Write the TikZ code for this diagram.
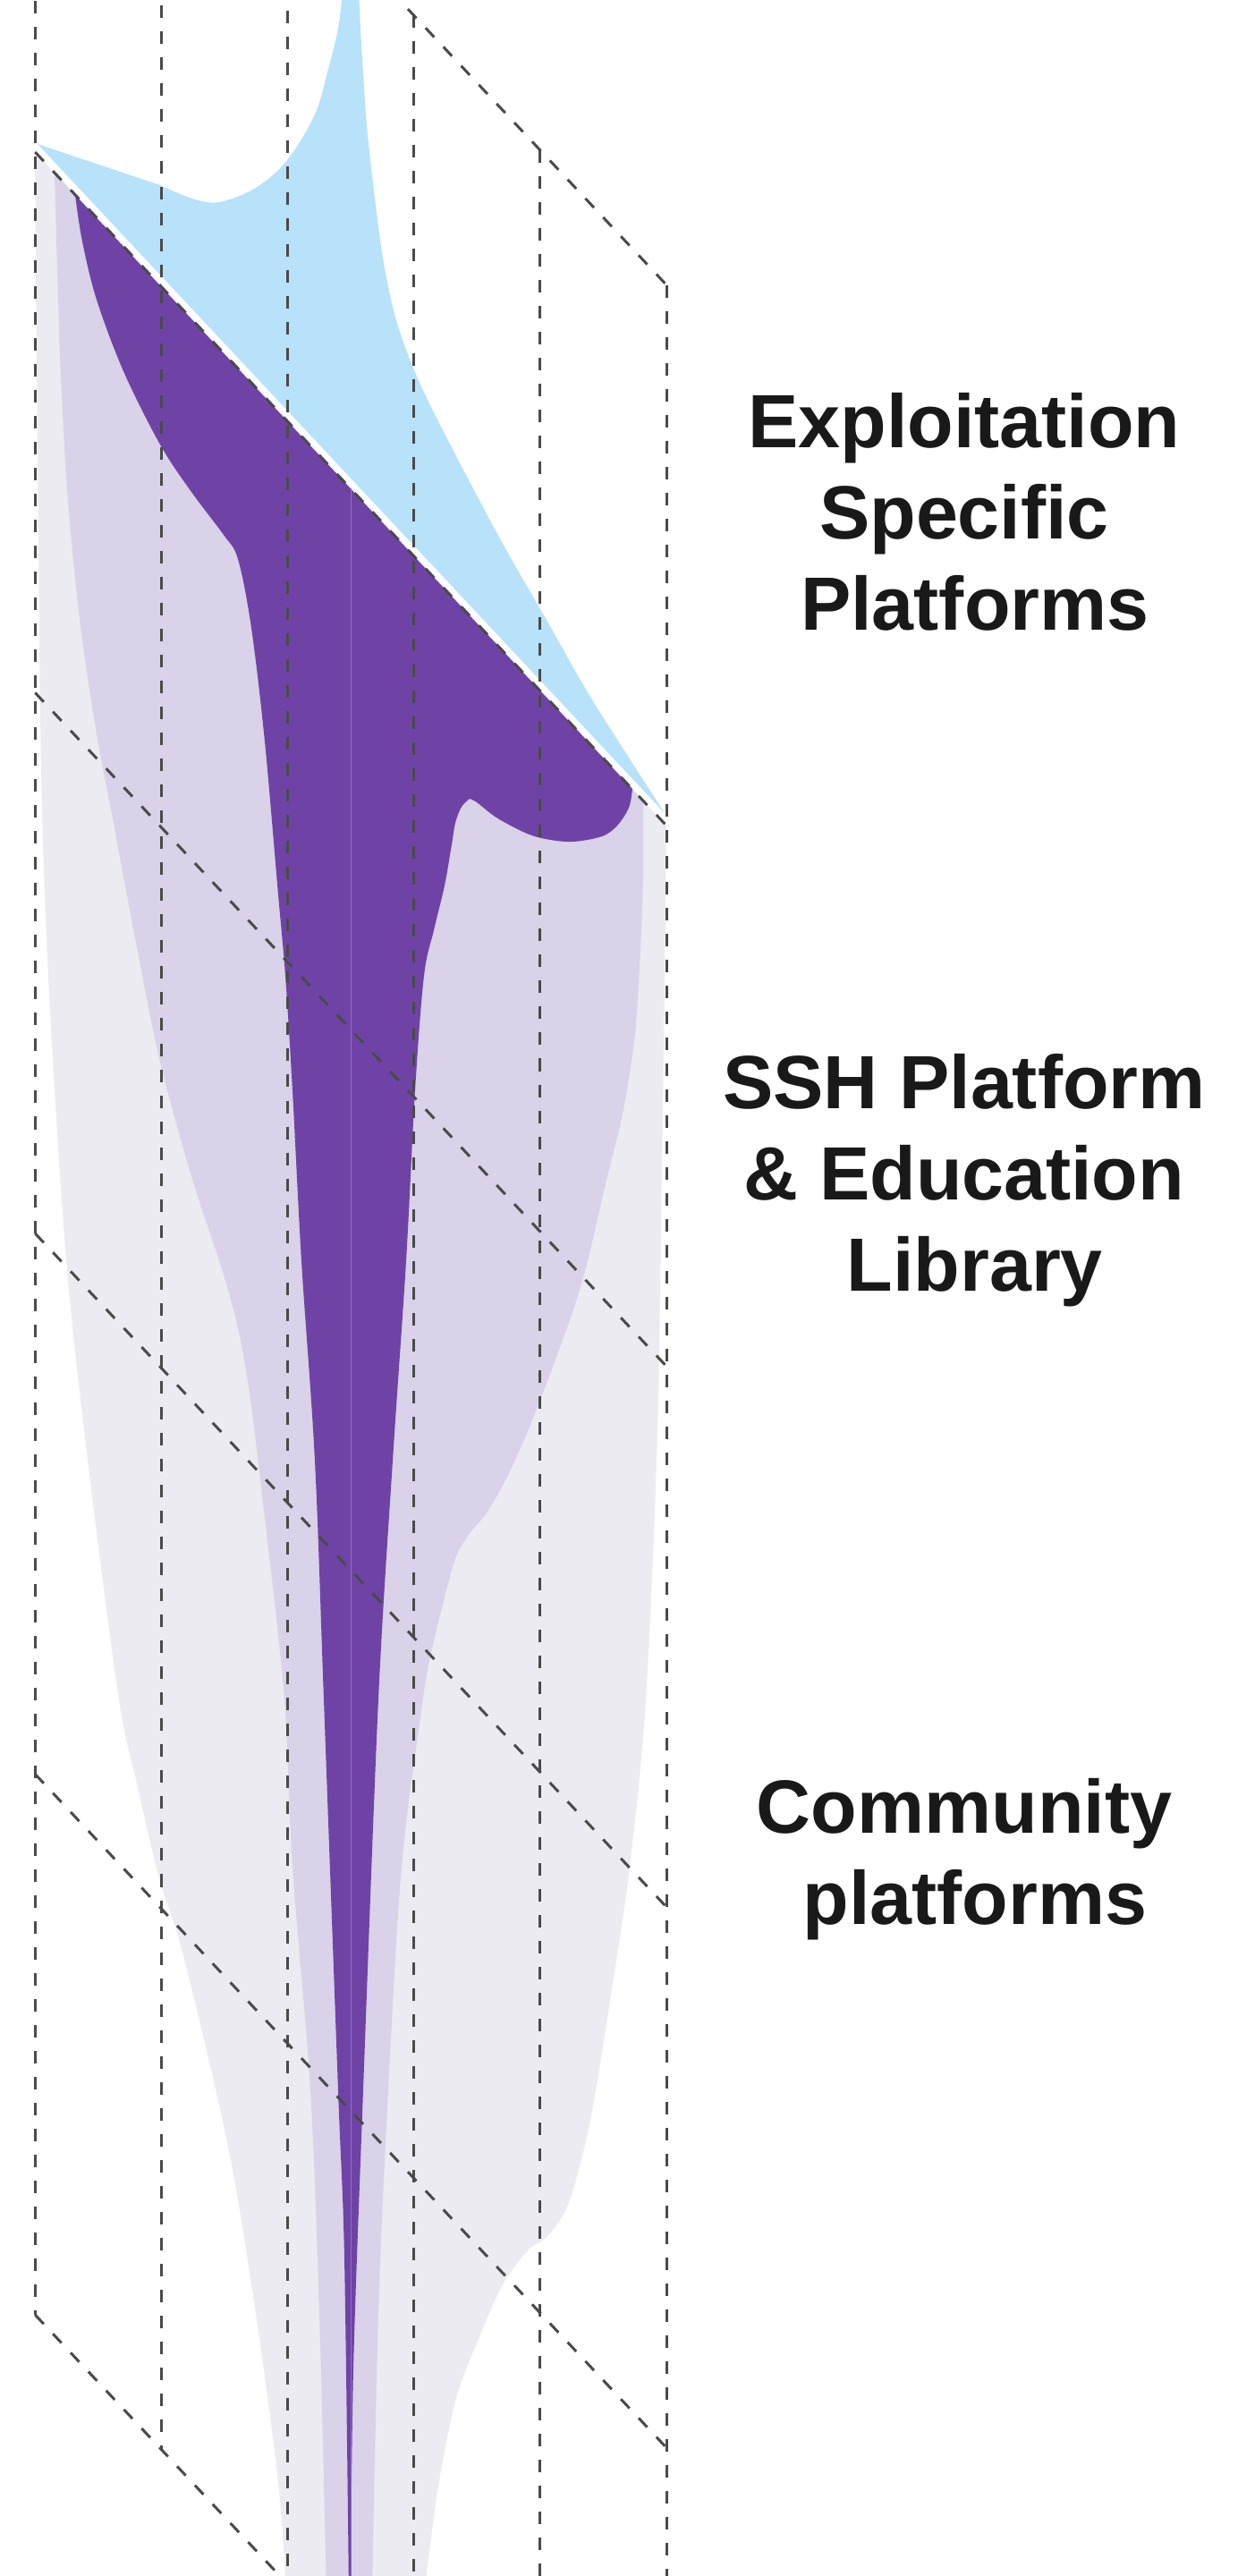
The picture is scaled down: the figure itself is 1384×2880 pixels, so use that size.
\documentclass[tikz,border=0pt]{standalone}
\usepackage{fontspec}
\setmainfont{Liberation Sans}
\definecolor{skyfill}{HTML}{B7E2F9}
\definecolor{grapefill}{HTML}{6F43A6}
\definecolor{lilacfill}{HTML}{D9D2E8}
\definecolor{mistfill}{HTML}{ECEBF1}
\definecolor{guidegray}{HTML}{4A4A4A}
\definecolor{seamline}{HTML}{8E6FC2}
\newcommand{\xL}{39.3}
\newcommand{\colgap}{141.14}
\newcommand{\tilt}{1.067}
\newcommand{\yA}{170}
\newcommand{\tiergap}{604.5}

\begin{document}
\begin{tikzpicture}[x=0.01cm,y=-0.01cm,
  guide/.style={guidegray,line width=0.3mm,dash pattern=on 1.4mm off 1.5mm},
  tierlabel/.style={font=\fontsize{24}{29}\selectfont\bfseries,align=center,
    text=black!90,inner sep=0pt}]

\useasboundingbox (0,0) rectangle (1384,2880);
\fill[white] (0,0) rectangle (1384,2880);

\begin{scope}
\clip (0,0) rectangle (1384,2880);

%% ---------------- outer haze ----------------
\fill[mistfill] (\xL,\yA) -- (745,923)
  -- plot[smooth,tension=0.55] coordinates {(745,923) (743,1100) (740,1300)
     (735,1600) (722,1900) (704,2087) (683,2230) (660,2370) (636,2462) (612,2500)
     (590,2516) (561,2556) (535,2615) (510,2681) (490,2780) (474,2900)}
  -- (320,2900)
  -- plot[smooth,tension=0.55] coordinates {(320,2900) (311,2775) (286,2587)
     (255,2400) (206,2190) (178,2100) (153,1994) (133,1900) (102,1665) (77,1442)
     (61,1219) (50,1000) (45,800) (42,500) (40,300) (\xL,\yA)}
  -- cycle;

%% ---------------- middle band ----------------
\fill[lilacfill] (61,193) -- (719,895)
  -- plot[smooth,tension=0.55] coordinates {(719,895) (719,980) (716,1060)
     (710,1155) (697,1240) (679,1315) (648,1442) (602,1570) (570,1645) (545,1690)
     (530,1708)}
  -- plot[smooth,tension=0.55] coordinates {(530,1708) (512,1735) (500,1774)
     (480,1857) (470,1920) (449,2087) (434,2337) (423,2587) (416,2900)}
  -- (365,2900)
  -- plot[smooth,tension=0.55] coordinates {(365,2900) (357,2587) (347,2337)
     (327,2087) (318,1900) (296,1697) (276,1538) (255,1442) (214,1315) (179,1187)
     (153,1059) (125,910) (108,820) (90,700) (76,560) (68,420) (64,300) (61,193)}
  -- cycle;

%% ---------------- core stem ----------------
\fill[grapefill] (84,218) -- (707,882)
  -- plot[smooth,tension=0.55] coordinates {(707,882) (703,903) (690,923)
     (673,935) (640,941) (610,938) (587,931) (555,914) (533,897) (525,893)}
  -- plot[smooth,tension=0.55] coordinates {(525,893) (516,902) (509,920)
     (505,944) (497,990) (485,1040) (474,1091) (464,1219) (454,1410) (439,1633)
     (423,1900) (406,2337) (395,2650) (392,2900)}
  -- (390,2900)
  -- plot[smooth,tension=0.55] coordinates {(390,2900) (385,2525) (378,2337)
     (362,1900) (352,1633) (337,1410) (327,1219) (319,1091) (311,1000) (296,829)
     (281,702) (266,625) (250,598) (214,550) (179,497) (138,415) (108,335)
     (92,270) (84,218)}
  -- cycle;
\draw[seamline,line width=0.1mm] (392,546) -- (392,2900);

%% ---------------- top spike ----------------
\fill[skyfill] (42,161) -- (743,909)
  -- plot[smooth,tension=0.55] coordinates {(743,909) (663,784) (612,695)
     (561,606) (510,510) (470,430) (445,365) (430,300) (420,230) (410,140)
     (404,50) (401,-10)}
  -- (383,-10)
  -- plot[smooth,tension=0.55] coordinates {(383,-10) (378,32) (367,77)
     (352,128) (321,179) (286,210) (245,226) (215,222) (179,207)}
  -- cycle;

%% ---------------- dashed box ----------------
\foreach \k in {-1,...,4}
  \draw[guide] (\xL,{\yA+\k*\tiergap}) -- ({\xL+5*\colgap},{\yA+\k*\tiergap+\tilt*5*\colgap});
\foreach \i in {0,...,5}
  \draw[guide] ({\xL+\i*\colgap},{\yA-\tiergap+\tilt*\i*\colgap})
    -- ({\xL+\i*\colgap},{\yA+4*\tiergap+\tilt*\i*\colgap});
\end{scope}

%% ---------------- tier names ----------------
\node[tierlabel] (exploit) at (1078,572) {Exploitation\\Specific\\\hspace*{0.28em}Platforms};
\node[tierlabel] (sshlib) at (1078,1320) {SSH Platform\\\& Education\\\hspace*{0.28em}Library};
\node[tierlabel] (community) at (1078,2079) {Community\\\hspace*{0.28em}platforms};

\end{tikzpicture}
\end{document}
